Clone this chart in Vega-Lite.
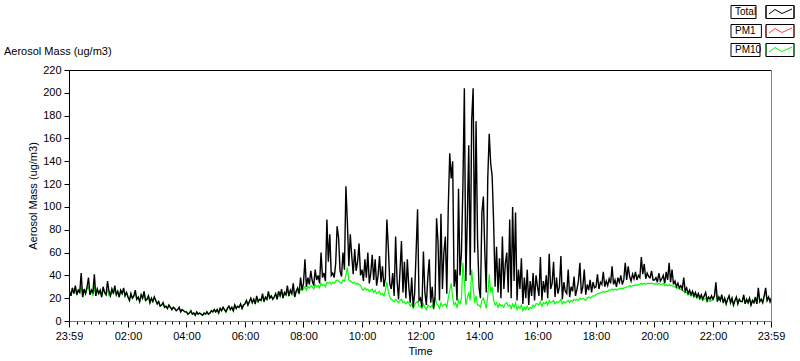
{
  "$schema": "https://vega.github.io/schema/vega-lite/v6.json",
  "autosize": {"type": "none"},
  "width": 702,
  "height": 251,
  "padding": {"left": 69, "top": 70, "right": 29, "bottom": 40},
  "background": "#ffffff",
  "title": {"text": "Aerosol Mass (ug/m3)", "anchor": "start", "frame": "group", "font": "Liberation Sans", "fontSize": 11, "fontWeight": "normal", "color": "#000000", "dx": -65, "offset": 8, "dy": 58},
  "config": {
    "view": {"stroke": null},
    "axis": {"labelFont": "Liberation Sans", "labelFontSize": 11, "labelColor": "#000000", "titleFont": "Liberation Sans", "titleFontSize": 11, "titleFontWeight": "normal", "titleColor": "#000000", "tickColor": "#000000", "domainColor": "#000000", "grid": false},
    "axisY": {"values": [0, 20, 40, 60, 80, 100, 120, 140, 160, 180, 200, 220], "tickSize": 5, "labelPadding": 3, "titlePadding": 4},
    "legend": {"labelFont": "Liberation Sans", "labelFontSize": 10, "labelColor": "#000000"}
  },
  "data": {"name": "dense", "format": {"parse": {"t": "utc:'%H:%M'"}}},
  "datasets": {
    "dense": [
{"t":"00:00","Total":26,"PM10":26},{"t":"00:03","Total":22,"PM10":22},{"t":"00:06","Total":29,"PM10":29},{"t":"00:09","Total":24,"PM10":24},{"t":"00:12","Total":31,"PM10":29},{"t":"00:15","Total":23,"PM10":23},{"t":"00:18","Total":27,"PM10":27},{"t":"00:21","Total":25,"PM10":25},{"t":"00:24","Total":42,"PM10":30},{"t":"00:27","Total":21,"PM10":21},{"t":"00:30","Total":28,"PM10":28},{"t":"00:33","Total":24,"PM10":24},{"t":"00:36","Total":30,"PM10":28},{"t":"00:39","Total":38,"PM10":30},{"t":"00:42","Total":23,"PM10":23},{"t":"00:45","Total":27,"PM10":27},{"t":"00:48","Total":25,"PM10":22},{"t":"00:51","Total":41,"PM10":31},{"t":"00:54","Total":22,"PM10":22},{"t":"00:57","Total":28,"PM10":28},
{"t":"01:00","Total":24,"PM10":24},{"t":"01:03","Total":27,"PM10":27},{"t":"01:06","Total":21,"PM10":21},{"t":"01:09","Total":30,"PM10":28},{"t":"01:12","Total":25,"PM10":25},{"t":"01:15","Total":23,"PM10":23},{"t":"01:18","Total":35,"PM10":28},{"t":"01:21","Total":26,"PM10":22},{"t":"01:24","Total":22,"PM10":22},{"t":"01:27","Total":28,"PM10":28},{"t":"01:30","Total":24,"PM10":24},{"t":"01:33","Total":31,"PM10":28},{"t":"01:36","Total":23,"PM10":23},{"t":"01:39","Total":26,"PM10":26},{"t":"01:42","Total":21,"PM10":21},{"t":"01:45","Total":27,"PM10":27},{"t":"01:48","Total":24,"PM10":24},{"t":"01:51","Total":29,"PM10":27},{"t":"01:54","Total":22,"PM10":22},{"t":"01:57","Total":25,"PM10":25},
{"t":"02:00","Total":21,"PM10":21},{"t":"02:03","Total":18,"PM10":18},{"t":"02:06","Total":24,"PM10":24},{"t":"02:09","Total":20,"PM10":20},{"t":"02:12","Total":22,"PM10":22},{"t":"02:15","Total":27,"PM10":24},{"t":"02:18","Total":19,"PM10":19},{"t":"02:21","Total":21,"PM10":21},{"t":"02:24","Total":17,"PM10":17},{"t":"02:27","Total":23,"PM10":23},{"t":"02:30","Total":20,"PM10":20},{"t":"02:33","Total":26,"PM10":24},{"t":"02:36","Total":18,"PM10":18},{"t":"02:39","Total":19,"PM10":19},{"t":"02:42","Total":22,"PM10":22},{"t":"02:45","Total":16,"PM10":16},{"t":"02:48","Total":20,"PM10":20},{"t":"02:51","Total":17,"PM10":17},{"t":"02:54","Total":21,"PM10":21},{"t":"02:57","Total":18,"PM10":18},
{"t":"03:00","Total":15,"PM10":15},{"t":"03:03","Total":17,"PM10":17},{"t":"03:06","Total":13,"PM10":13},{"t":"03:09","Total":14,"PM10":14},{"t":"03:12","Total":16,"PM10":16},{"t":"03:15","Total":12,"PM10":12},{"t":"03:18","Total":13,"PM10":13},{"t":"03:21","Total":11,"PM10":11},{"t":"03:24","Total":14,"PM10":14},{"t":"03:27","Total":12,"PM10":12},{"t":"03:30","Total":10,"PM10":10},{"t":"03:33","Total":12,"PM10":12},{"t":"03:36","Total":11,"PM10":11},{"t":"03:39","Total":9,"PM10":9},{"t":"03:42","Total":10,"PM10":10},{"t":"03:45","Total":12,"PM10":12},{"t":"03:48","Total":8,"PM10":8},{"t":"03:51","Total":10,"PM10":10},{"t":"03:54","Total":9,"PM10":9},{"t":"03:57","Total":8,"PM10":8},
{"t":"04:00","Total":8,"PM10":8},{"t":"04:03","Total":6,"PM10":6},{"t":"04:06","Total":7,"PM10":7},{"t":"04:09","Total":9,"PM10":9},{"t":"04:12","Total":6,"PM10":6},{"t":"04:15","Total":7,"PM10":7},{"t":"04:18","Total":5,"PM10":5},{"t":"04:21","Total":8,"PM10":8},{"t":"04:24","Total":6,"PM10":6},{"t":"04:27","Total":7,"PM10":7},{"t":"04:30","Total":6,"PM10":6},{"t":"04:33","Total":5,"PM10":5},{"t":"04:36","Total":7,"PM10":7},{"t":"04:39","Total":6,"PM10":6},{"t":"04:42","Total":8,"PM10":8},{"t":"04:45","Total":6,"PM10":6},{"t":"04:48","Total":7,"PM10":7},{"t":"04:51","Total":9,"PM10":9},{"t":"04:54","Total":8,"PM10":8},{"t":"04:57","Total":10,"PM10":10},
{"t":"05:00","Total":8,"PM10":8},{"t":"05:03","Total":10,"PM10":10},{"t":"05:06","Total":7,"PM10":7},{"t":"05:09","Total":11,"PM10":11},{"t":"05:12","Total":9,"PM10":9},{"t":"05:15","Total":12,"PM10":12},{"t":"05:18","Total":10,"PM10":10},{"t":"05:21","Total":8,"PM10":8},{"t":"05:24","Total":11,"PM10":11},{"t":"05:27","Total":13,"PM10":13},{"t":"05:30","Total":10,"PM10":10},{"t":"05:33","Total":12,"PM10":12},{"t":"05:36","Total":9,"PM10":9},{"t":"05:39","Total":14,"PM10":14},{"t":"05:42","Total":11,"PM10":11},{"t":"05:45","Total":13,"PM10":13},{"t":"05:48","Total":12,"PM10":12},{"t":"05:51","Total":15,"PM10":15},{"t":"05:54","Total":11,"PM10":11},{"t":"05:57","Total":14,"PM10":14},
{"t":"06:00","Total":15,"PM10":15},{"t":"06:03","Total":18,"PM10":18},{"t":"06:06","Total":14,"PM10":14},{"t":"06:09","Total":17,"PM10":17},{"t":"06:12","Total":20,"PM10":20},{"t":"06:15","Total":16,"PM10":16},{"t":"06:18","Total":19,"PM10":19},{"t":"06:21","Total":15,"PM10":15},{"t":"06:24","Total":22,"PM10":20},{"t":"06:27","Total":17,"PM10":17},{"t":"06:30","Total":19,"PM10":19},{"t":"06:33","Total":18,"PM10":18},{"t":"06:36","Total":24,"PM10":21},{"t":"06:39","Total":17,"PM10":17},{"t":"06:42","Total":21,"PM10":21},{"t":"06:45","Total":19,"PM10":19},{"t":"06:48","Total":26,"PM10":22},{"t":"06:51","Total":20,"PM10":20},{"t":"06:54","Total":22,"PM10":22},{"t":"06:57","Total":19,"PM10":19},
{"t":"07:00","Total":21,"PM10":21},{"t":"07:03","Total":24,"PM10":24},{"t":"07:06","Total":19,"PM10":19},{"t":"07:09","Total":26,"PM10":26},{"t":"07:12","Total":22,"PM10":22},{"t":"07:15","Total":28,"PM10":25},{"t":"07:18","Total":20,"PM10":20},{"t":"07:21","Total":25,"PM10":25},{"t":"07:24","Total":23,"PM10":23},{"t":"07:27","Total":31,"PM10":27},{"t":"07:30","Total":22,"PM10":22},{"t":"07:33","Total":27,"PM10":26},{"t":"07:36","Total":24,"PM10":24},{"t":"07:39","Total":33,"PM10":27},{"t":"07:42","Total":21,"PM10":21},{"t":"07:45","Total":26,"PM10":26},{"t":"07:48","Total":29,"PM10":26},{"t":"07:51","Total":24,"PM10":24},{"t":"07:54","Total":38,"PM10":28},{"t":"07:57","Total":27,"PM10":27},
{"t":"08:00","Total":33,"PM10":28},{"t":"08:03","Total":54,"PM10":30},{"t":"08:06","Total":30,"PM10":27},{"t":"08:09","Total":38,"PM10":30},{"t":"08:12","Total":32,"PM10":29},{"t":"08:15","Total":44,"PM10":31},{"t":"08:18","Total":35,"PM10":30},{"t":"08:21","Total":31,"PM10":28},{"t":"08:24","Total":45,"PM10":32},{"t":"08:27","Total":36,"PM10":30},{"t":"08:30","Total":40,"PM10":31},{"t":"08:33","Total":33,"PM10":29},{"t":"08:36","Total":60,"PM10":33},{"t":"08:39","Total":38,"PM10":31},{"t":"08:42","Total":42,"PM10":32},{"t":"08:45","Total":35,"PM10":30},{"t":"08:48","Total":89,"PM10":34},{"t":"08:51","Total":52,"PM10":33},{"t":"08:54","Total":76,"PM10":34},{"t":"08:57","Total":40,"PM10":32},
{"t":"09:00","Total":42,"PM10":34},{"t":"09:03","Total":38,"PM10":33},{"t":"09:06","Total":50,"PM10":35},{"t":"09:09","Total":83,"PM10":36},{"t":"09:12","Total":73,"PM10":35},{"t":"09:15","Total":44,"PM10":34},{"t":"09:18","Total":39,"PM10":33},{"t":"09:21","Total":60,"PM10":36},{"t":"09:24","Total":45,"PM10":35},{"t":"09:27","Total":118,"PM10":40},{"t":"09:30","Total":87,"PM10":47},{"t":"09:33","Total":48,"PM10":36},{"t":"09:36","Total":76,"PM10":35},{"t":"09:39","Total":57,"PM10":34},{"t":"09:42","Total":41,"PM10":33},{"t":"09:45","Total":63,"PM10":34},{"t":"09:48","Total":44,"PM10":32},{"t":"09:51","Total":52,"PM10":33},{"t":"09:54","Total":68,"PM10":32},{"t":"09:57","Total":40,"PM10":31},
{"t":"10:00","Total":45,"PM10":28},{"t":"10:03","Total":35,"PM10":27},{"t":"10:06","Total":54,"PM10":29},{"t":"10:09","Total":38,"PM10":27},{"t":"10:12","Total":60,"PM10":28},{"t":"10:15","Total":33,"PM10":26},{"t":"10:18","Total":42,"PM10":27},{"t":"10:21","Total":58,"PM10":28},{"t":"10:24","Total":36,"PM10":25},{"t":"10:27","Total":54,"PM10":27},{"t":"10:30","Total":31,"PM10":24},{"t":"10:33","Total":40,"PM10":25},{"t":"10:36","Total":57,"PM10":26},{"t":"10:39","Total":34,"PM10":23},{"t":"10:42","Total":48,"PM10":24},{"t":"10:45","Total":30,"PM10":22},{"t":"10:48","Total":38,"PM10":27},{"t":"10:51","Total":89,"PM10":34},{"t":"10:54","Total":65,"PM10":26},{"t":"10:57","Total":33,"PM10":21},
{"t":"11:00","Total":28,"PM10":19},{"t":"11:03","Total":42,"PM10":18},{"t":"11:06","Total":22,"PM10":17},{"t":"11:09","Total":74,"PM10":19},{"t":"11:12","Total":35,"PM10":18},{"t":"11:15","Total":19,"PM10":16},{"t":"11:18","Total":44,"PM10":18},{"t":"11:21","Total":70,"PM10":19},{"t":"11:24","Total":25,"PM10":16},{"t":"11:27","Total":52,"PM10":17},{"t":"11:30","Total":20,"PM10":15},{"t":"11:33","Total":54,"PM10":17},{"t":"11:36","Total":30,"PM10":16},{"t":"11:39","Total":16,"PM10":13},{"t":"11:42","Total":38,"PM10":15},{"t":"11:45","Total":12,"PM10":11},{"t":"11:48","Total":24,"PM10":14},{"t":"11:51","Total":60,"PM10":16},{"t":"11:54","Total":98,"PM10":17},{"t":"11:57","Total":18,"PM10":13},
{"t":"12:00","Total":20,"PM10":13},{"t":"12:03","Total":12,"PM10":11},{"t":"12:06","Total":61,"PM10":15},{"t":"12:09","Total":25,"PM10":12},{"t":"12:12","Total":14,"PM10":10},{"t":"12:15","Total":38,"PM10":14},{"t":"12:18","Total":54,"PM10":13},{"t":"12:21","Total":16,"PM10":12},{"t":"12:24","Total":30,"PM10":14},{"t":"12:27","Total":11,"PM10":10},{"t":"12:30","Total":22,"PM10":21},{"t":"12:33","Total":90,"PM10":15},{"t":"12:36","Total":69,"PM10":14},{"t":"12:39","Total":18,"PM10":11},{"t":"12:42","Total":94,"PM10":16},{"t":"12:45","Total":28,"PM10":13},{"t":"12:48","Total":60,"PM10":14},{"t":"12:51","Total":74,"PM10":15},{"t":"12:54","Total":24,"PM10":12},{"t":"12:57","Total":100,"PM10":20},
{"t":"13:00","Total":147,"PM10":27},{"t":"13:03","Total":125,"PM10":33},{"t":"13:06","Total":140,"PM10":20},{"t":"13:09","Total":30,"PM10":14},{"t":"13:12","Total":45,"PM10":16},{"t":"13:15","Total":18,"PM10":12},{"t":"13:18","Total":116,"PM10":18},{"t":"13:21","Total":40,"PM10":15},{"t":"13:24","Total":60,"PM10":20},{"t":"13:27","Total":118,"PM10":51},{"t":"13:30","Total":204,"PM10":36},{"t":"13:33","Total":35,"PM10":14},{"t":"13:36","Total":89,"PM10":20},{"t":"13:39","Total":154,"PM10":25},{"t":"13:42","Total":40,"PM10":18},{"t":"13:45","Total":176,"PM10":45},{"t":"13:48","Total":204,"PM10":30},{"t":"13:51","Total":60,"PM10":16},{"t":"13:54","Total":175,"PM10":22},{"t":"13:57","Total":72,"PM10":14},
{"t":"14:00","Total":30,"PM10":14},{"t":"14:03","Total":20,"PM10":12},{"t":"14:06","Total":95,"PM10":18},{"t":"14:09","Total":109,"PM10":20},{"t":"14:12","Total":60,"PM10":16},{"t":"14:15","Total":25,"PM10":11},{"t":"14:18","Total":125,"PM10":22},{"t":"14:21","Total":164,"PM10":41},{"t":"14:24","Total":138,"PM10":25},{"t":"14:27","Total":127,"PM10":30},{"t":"14:30","Total":87,"PM10":18},{"t":"14:33","Total":30,"PM10":14},{"t":"14:36","Total":65,"PM10":16},{"t":"14:39","Total":25,"PM10":12},{"t":"14:42","Total":55,"PM10":15},{"t":"14:45","Total":20,"PM10":13},{"t":"14:48","Total":74,"PM10":14},{"t":"14:51","Total":28,"PM10":12},{"t":"14:54","Total":50,"PM10":15},{"t":"14:57","Total":60,"PM10":16},
{"t":"15:00","Total":25,"PM10":13},{"t":"15:03","Total":89,"PM10":14},{"t":"15:06","Total":20,"PM10":11},{"t":"15:09","Total":100,"PM10":15},{"t":"15:12","Total":35,"PM10":12},{"t":"15:15","Total":95,"PM10":16},{"t":"15:18","Total":18,"PM10":10},{"t":"15:21","Total":45,"PM10":13},{"t":"15:24","Total":28,"PM10":11},{"t":"15:27","Total":55,"PM10":14},{"t":"15:30","Total":15,"PM10":9},{"t":"15:33","Total":38,"PM10":12},{"t":"15:36","Total":20,"PM10":10},{"t":"15:39","Total":45,"PM10":13},{"t":"15:42","Total":14,"PM10":10},{"t":"15:45","Total":35,"PM10":12},{"t":"15:48","Total":22,"PM10":11},{"t":"15:51","Total":42,"PM10":14},{"t":"15:54","Total":18,"PM10":12},{"t":"15:57","Total":40,"PM10":15},
{"t":"16:00","Total":30,"PM10":15},{"t":"16:03","Total":22,"PM10":14},{"t":"16:06","Total":56,"PM10":17},{"t":"16:09","Total":18,"PM10":13},{"t":"16:12","Total":35,"PM10":16},{"t":"16:15","Total":25,"PM10":15},{"t":"16:18","Total":40,"PM10":17},{"t":"16:21","Total":20,"PM10":14},{"t":"16:24","Total":59,"PM10":18},{"t":"16:27","Total":28,"PM10":16},{"t":"16:30","Total":33,"PM10":17},{"t":"16:33","Total":52,"PM10":18},{"t":"16:36","Total":21,"PM10":15},{"t":"16:39","Total":38,"PM10":17},{"t":"16:42","Total":24,"PM10":16},{"t":"16:45","Total":30,"PM10":17},{"t":"16:48","Total":57,"PM10":19},{"t":"16:51","Total":19,"PM10":15},{"t":"16:54","Total":34,"PM10":17},{"t":"16:57","Total":26,"PM10":16},
{"t":"17:00","Total":24,"PM10":17},{"t":"17:03","Total":45,"PM10":18},{"t":"17:06","Total":21,"PM10":16},{"t":"17:09","Total":30,"PM10":18},{"t":"17:12","Total":26,"PM10":17},{"t":"17:15","Total":39,"PM10":19},{"t":"17:18","Total":22,"PM10":18},{"t":"17:21","Total":28,"PM10":19},{"t":"17:24","Total":35,"PM10":18},{"t":"17:27","Total":51,"PM10":20},{"t":"17:30","Total":24,"PM10":19},{"t":"17:33","Total":30,"PM10":20},{"t":"17:36","Total":45,"PM10":19},{"t":"17:39","Total":23,"PM10":18},{"t":"17:42","Total":32,"PM10":20},{"t":"17:45","Total":27,"PM10":21},{"t":"17:48","Total":36,"PM10":20},{"t":"17:51","Total":25,"PM10":21},{"t":"17:54","Total":34,"PM10":22},{"t":"17:57","Total":29,"PM10":22},
{"t":"18:00","Total":30,"PM10":23},{"t":"18:03","Total":41,"PM10":24},{"t":"18:06","Total":28,"PM10":24},{"t":"18:09","Total":34,"PM10":25},{"t":"18:12","Total":32,"PM10":25},{"t":"18:15","Total":43,"PM10":26},{"t":"18:18","Total":30,"PM10":25},{"t":"18:21","Total":35,"PM10":26},{"t":"18:24","Total":31,"PM10":26},{"t":"18:27","Total":37,"PM10":27},{"t":"18:30","Total":33,"PM10":27},{"t":"18:33","Total":48,"PM10":28},{"t":"18:36","Total":32,"PM10":27},{"t":"18:39","Total":36,"PM10":28},{"t":"18:42","Total":30,"PM10":27},{"t":"18:45","Total":38,"PM10":28},{"t":"18:48","Total":34,"PM10":28},{"t":"18:51","Total":40,"PM10":29},{"t":"18:54","Total":32,"PM10":28},{"t":"18:57","Total":36,"PM10":29},
{"t":"19:00","Total":51,"PM10":29},{"t":"19:03","Total":36,"PM10":30},{"t":"19:06","Total":48,"PM10":30},{"t":"19:09","Total":39,"PM10":31},{"t":"19:12","Total":35,"PM10":30},{"t":"19:15","Total":41,"PM10":31},{"t":"19:18","Total":37,"PM10":31},{"t":"19:21","Total":43,"PM10":32},{"t":"19:24","Total":36,"PM10":31},{"t":"19:27","Total":40,"PM10":32},{"t":"19:30","Total":38,"PM10":32},{"t":"19:33","Total":56,"PM10":33},{"t":"19:36","Total":41,"PM10":32},{"t":"19:39","Total":50,"PM10":33},{"t":"19:42","Total":37,"PM10":32},{"t":"19:45","Total":42,"PM10":33},{"t":"19:48","Total":39,"PM10":33},{"t":"19:51","Total":38,"PM10":33},{"t":"19:54","Total":44,"PM10":33},{"t":"19:57","Total":36,"PM10":33},
{"t":"20:00","Total":36,"PM10":32},{"t":"20:03","Total":38,"PM10":33},{"t":"20:06","Total":34,"PM10":32},{"t":"20:09","Total":42,"PM10":33},{"t":"20:12","Total":35,"PM10":32},{"t":"20:15","Total":37,"PM10":32},{"t":"20:18","Total":40,"PM10":33},{"t":"20:21","Total":33,"PM10":31},{"t":"20:24","Total":43,"PM10":32},{"t":"20:27","Total":36,"PM10":31},{"t":"20:30","Total":51,"PM10":32},{"t":"20:33","Total":34,"PM10":31},{"t":"20:36","Total":45,"PM10":31},{"t":"20:39","Total":32,"PM10":30},{"t":"20:42","Total":35,"PM10":30},{"t":"20:45","Total":30,"PM10":29},{"t":"20:48","Total":33,"PM10":29},{"t":"20:51","Total":29,"PM10":28},{"t":"20:54","Total":31,"PM10":28},{"t":"20:57","Total":28,"PM10":27},
{"t":"21:00","Total":38,"PM10":26},{"t":"21:03","Total":26,"PM10":25},{"t":"21:06","Total":29,"PM10":25},{"t":"21:09","Total":24,"PM10":23},{"t":"21:12","Total":27,"PM10":24},{"t":"21:15","Total":23,"PM10":22},{"t":"21:18","Total":26,"PM10":23},{"t":"21:21","Total":22,"PM10":21},{"t":"21:24","Total":25,"PM10":22},{"t":"21:27","Total":21,"PM10":20},{"t":"21:30","Total":24,"PM10":21},{"t":"21:33","Total":20,"PM10":19},{"t":"21:36","Total":23,"PM10":20},{"t":"21:39","Total":19,"PM10":18},{"t":"21:42","Total":22,"PM10":19},{"t":"21:45","Total":25,"PM10":20},{"t":"21:48","Total":18,"PM10":17},{"t":"21:51","Total":21,"PM10":18},{"t":"21:54","Total":19,"PM10":17},{"t":"21:57","Total":22,"PM10":18},
{"t":"22:00","Total":19,"PM10":19},{"t":"22:03","Total":22,"PM10":22},{"t":"22:06","Total":34,"PM10":30},{"t":"22:09","Total":17,"PM10":17},{"t":"22:12","Total":21,"PM10":21},{"t":"22:15","Total":18,"PM10":18},{"t":"22:18","Total":23,"PM10":22},{"t":"22:21","Total":16,"PM10":16},{"t":"22:24","Total":20,"PM10":20},{"t":"22:27","Total":15,"PM10":15},{"t":"22:30","Total":19,"PM10":19},{"t":"22:33","Total":22,"PM10":22},{"t":"22:36","Total":16,"PM10":16},{"t":"22:39","Total":20,"PM10":20},{"t":"22:42","Total":14,"PM10":14},{"t":"22:45","Total":18,"PM10":18},{"t":"22:48","Total":21,"PM10":21},{"t":"22:51","Total":15,"PM10":15},{"t":"22:54","Total":19,"PM10":19},{"t":"22:57","Total":17,"PM10":17},
{"t":"23:00","Total":17,"PM10":17},{"t":"23:03","Total":23,"PM10":22},{"t":"23:06","Total":15,"PM10":15},{"t":"23:09","Total":19,"PM10":19},{"t":"23:12","Total":16,"PM10":16},{"t":"23:15","Total":20,"PM10":20},{"t":"23:18","Total":14,"PM10":14},{"t":"23:21","Total":18,"PM10":18},{"t":"23:24","Total":16,"PM10":16},{"t":"23:27","Total":21,"PM10":21},{"t":"23:30","Total":15,"PM10":15},{"t":"23:33","Total":29,"PM10":24},{"t":"23:36","Total":17,"PM10":17},{"t":"23:39","Total":19,"PM10":19},{"t":"23:42","Total":16,"PM10":16},{"t":"23:45","Total":22,"PM10":22},{"t":"23:48","Total":29,"PM10":24},{"t":"23:51","Total":18,"PM10":18},{"t":"23:54","Total":21,"PM10":21},{"t":"23:57","Total":17,"PM10":17},
{"t":"23:59","Total":20,"PM10":20}
    ],
    "pm1": [
{"t":"00:00","PM1":10.4},{"t":"00:30","PM1":9.5},{"t":"01:00","PM1":8.6},{"t":"01:30","PM1":7.8},{"t":"02:00","PM1":6.8},{"t":"02:30","PM1":5.3},{"t":"03:00","PM1":3.5},{"t":"03:30","PM1":2.6},{"t":"04:00","PM1":2.4},{"t":"05:30","PM1":2.4},{"t":"06:00","PM1":3.2},{"t":"06:30","PM1":5.0},{"t":"07:00","PM1":6.8},{"t":"07:45","PM1":8.5},{"t":"08:00","PM1":9.5},{"t":"08:30","PM1":11.8},{"t":"09:00","PM1":13.5},{"t":"09:15","PM1":15.0},{"t":"09:30","PM1":14.5},{"t":"09:45","PM1":13.5},{"t":"10:00","PM1":12.0},{"t":"10:30","PM1":9.5},{"t":"11:00","PM1":8.2},{"t":"11:30","PM1":7.0},{"t":"12:00","PM1":4.4},{"t":"12:10","PM1":2.6},{"t":"12:30","PM1":2.6},{"t":"12:45","PM1":4.0},{"t":"14:30","PM1":4.0},{"t":"14:35","PM1":2.4},{"t":"15:30","PM1":2.4},{"t":"15:45","PM1":5.0},{"t":"16:00","PM1":5.3},{"t":"17:00","PM1":6.2},{"t":"18:00","PM1":9.0},{"t":"19:00","PM1":13.3},{"t":"19:30","PM1":14.4},{"t":"20:00","PM1":14.4},{"t":"20:30","PM1":12.0},{"t":"21:00","PM1":9.0},{"t":"21:30","PM1":5.3},{"t":"22:00","PM1":3.8},{"t":"22:30","PM1":2.6},{"t":"23:59","PM1":2.6}
    ],
    "keys": [{"k": "box-a"}, {"k": "box-b"}, {"k": "box-c"}]
  },
  "resolve": {"scale": {"x": "shared", "y": "shared", "color": "shared"}, "axis": {"x": "independent", "y": "independent"}},
  "layer": [
    {
      "mark": {"type": "line", "strokeWidth": 1.2, "clip": true},
      "encoding": {
        "x": {"field": "t", "type": "temporal", "scale": {"type": "utc", "domain": [{"year": 1899, "month": 12, "date": 31, "hours": 23, "minutes": 59, "utc": true}, {"year": 1900, "month": 1, "date": 1, "hours": 23, "minutes": 59, "utc": true}]},
              "axis": {"orient": "bottom", "tickCount": 96, "labels": false, "domain": false, "tickSize": 3, "title": null, "grid": false}},
        "y": {"field": "PM10", "type": "quantitative", "title": "Aerosol Mass (ug/m3)", "scale": {"domain": [0, 220], "nice": false}, "axis": null},
        "color": {"datum": "PM10", "scale": {"domain": ["Total", "PM1", "PM10"], "range": ["#000000", "#ff4040", "#00ff00"]},
          "legend": {"orient": "none", "legendX": 657, "legendY": -63, "title": null, "padding": 0, "rowPadding": 1, "symbolSize": 16, "symbolStrokeWidth": 1, "labelOffset": -1,
            "symbolType": "M17.5,-3.25H31.5V3.25H17.5Z M19,1L22,-1.25L25.5,0.75L30.5,-1.5"}}
      }
    },
    {
      "mark": {"type": "line", "strokeWidth": 1.4, "clip": true},
      "encoding": {
        "x": {"field": "t", "type": "temporal", "scale": {"type": "utc"},
              "axis": {"orient": "bottom", "values": [{"year": 1899, "month": 12, "date": 31, "hours": 23, "minutes": 59, "utc": true}, {"year": 1900, "month": 1, "date": 1, "hours": 2, "utc": true}, {"year": 1900, "month": 1, "date": 1, "hours": 4, "utc": true}, {"year": 1900, "month": 1, "date": 1, "hours": 6, "utc": true}, {"year": 1900, "month": 1, "date": 1, "hours": 8, "utc": true}, {"year": 1900, "month": 1, "date": 1, "hours": 10, "utc": true}, {"year": 1900, "month": 1, "date": 1, "hours": 12, "utc": true}, {"year": 1900, "month": 1, "date": 1, "hours": 14, "utc": true}, {"year": 1900, "month": 1, "date": 1, "hours": 16, "utc": true}, {"year": 1900, "month": 1, "date": 1, "hours": 18, "utc": true}, {"year": 1900, "month": 1, "date": 1, "hours": 20, "utc": true}, {"year": 1900, "month": 1, "date": 1, "hours": 22, "utc": true}, {"year": 1900, "month": 1, "date": 1, "hours": 23, "minutes": 59, "utc": true}],
                       "format": "%H:%M", "tickSize": 6, "labelPadding": 3, "domainColor": "#808080", "title": "Time", "titlePadding": 4, "grid": false, "labelFlush": false, "labelOverlap": false}},
        "y": {"field": "Total", "type": "quantitative", "title": "Aerosol Mass (ug/m3)", "axis": {"orient": "left", "domainColor": "#000000"}},
        "color": {"datum": "Total"}
      }
    },
    {
      "data": {"name": "pm1", "format": {"parse": {"t": "utc:'%H:%M'"}}},
      "mark": {"type": "line", "strokeWidth": 1.2, "clip": true},
      "encoding": {
        "x": {"field": "t", "type": "temporal", "scale": {"type": "utc"}, "axis": {"orient": "top", "domainColor": "#000000", "ticks": false, "labels": false, "title": null, "grid": false}},
        "y": {"field": "PM1", "type": "quantitative", "title": "Aerosol Mass (ug/m3)", "axis": {"orient": "right", "domainColor": "#808080", "ticks": false, "labels": false, "title": null, "grid": false}},
        "color": {"datum": "PM1"}
      }
    },
    {
      "data": {"name": "keys"},
      "mark": {"type": "point", "opacity": 0},
      "encoding": {
        "shape": {"field": "k", "type": "nominal",
          "scale": {"domain": ["box-a", "box-b", "box-c"], "range": ["M0,-3.25H12.5V3.25H0Z M17.5,-3.25H31.5V3.25H17.5Z", "M0,-3.25H15.2V3.25H0Z M17.5,-3.25H31.5V3.25H17.5Z", "M0,-3.25H14.5V3.25H0Z M17.5,-3.25H31.5V3.25H17.5Z"]},
          "legend": {"orient": "none", "legendX": 657, "legendY": -63, "title": null, "padding": 0, "rowPadding": 1, "symbolSize": 16, "symbolStrokeWidth": 1, "symbolStrokeColor": "#000000", "symbolFillColor": "transparent", "symbolOpacity": 1, "labelExpr": "''", "labelOffset": -1}}
      }
    }
  ]
}
